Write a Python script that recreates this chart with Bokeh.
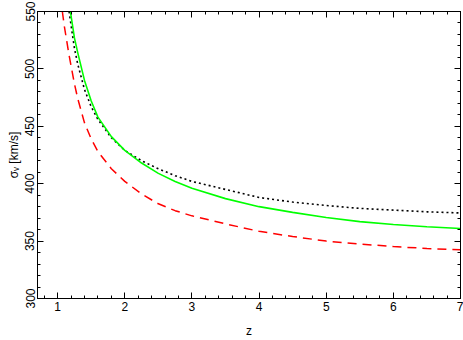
from bokeh.plotting import figure
from bokeh.models import LinearAxis, SingleIntervalTicker, Range1d, CustomJSTickFormatter
from bokeh.embed import file_html
from bokeh.resources import INLINE

# Data
z_green = [1.19, 1.25, 1.3, 1.4, 1.5, 1.6, 1.8, 2.0, 2.25, 2.5, 2.75, 3.0, 3.5, 4.0, 4.5, 5.0, 5.5, 6.0, 6.5, 7.0]
sig_green = [550, 527, 514, 490, 472, 458, 441, 429, 418, 409, 402, 396, 387, 380, 375, 370.5, 367, 364.5, 362.5, 361]

z_dotted = [1.17, 1.25, 1.3, 1.4, 1.5, 1.6, 1.8, 2.0, 2.25, 2.5, 2.75, 3.0, 3.5, 4.0, 4.5, 5.0, 5.5, 6.0, 6.5, 7.0]
sig_dotted = [550, 518, 504, 482, 467, 456, 440, 429, 420, 413, 407, 402, 395, 388, 384, 381, 378.5, 377, 375.5, 374.5]

z_red = [1.07, 1.1, 1.17, 1.25, 1.3, 1.4, 1.5, 1.6, 1.8, 2.0, 2.25, 2.5, 2.75, 3.0, 3.5, 4.0, 4.5, 5.0, 5.5, 6.0, 6.5, 7.0]
sig_red = [550, 537, 512, 487, 474, 453, 439, 428, 413, 402, 391, 382.5, 376.5, 372, 365, 358.5, 354, 350, 347.5, 345.2, 343.6, 342.4]

x_tick_step = 1
y_tick_step = 50

FONT = "Liberation Sans"

p = figure(width=463, height=340, output_backend="svg", toolbar_location=None,
           x_range=Range1d(0.7, 7), y_range=Range1d(300, 550),
           x_axis_type=None, y_axis_type=None,
           min_border_left=37, min_border_top=11, min_border_right=3, min_border_bottom=40)
p.grid.visible = False
p.outline_line_color = "black"
p.outline_line_width = 1
p.background_fill_color = "white"
p.border_fill_color = "white"


def make_axis(ticker, labels=True, label=None, vertical=False):
    ax = LinearAxis(ticker=ticker)
    ax.axis_line_color = "black"
    ax.major_tick_line_color = "black"
    ax.minor_tick_line_color = "black"
    ax.major_tick_in = 6
    ax.major_tick_out = 0
    ax.minor_tick_in = 3
    ax.minor_tick_out = 0
    if labels:
        ax.major_label_text_font = FONT
        ax.major_label_text_font_size = "12px"
        ax.major_label_text_color = "black"
        ax.major_label_standoff = 3
        if vertical:
            ax.major_label_orientation = "vertical"
    else:
        ax.formatter = CustomJSTickFormatter(code="return ''")
        ax.major_label_standoff = 0
    if label is not None:
        ax.axis_label = label
        ax.axis_label_text_font = FONT
        ax.axis_label_text_font_size = "12px"
        ax.axis_label_text_font_style = "normal"
        ax.axis_label_text_color = "black"
        ax.axis_label_standoff = 2
    return ax


xb = make_axis(SingleIntervalTicker(interval=x_tick_step, num_minor_ticks=5), label="z")
xb.axis_label_standoff = 10
p.add_layout(xb, "below")
xt = make_axis(SingleIntervalTicker(interval=x_tick_step, num_minor_ticks=5), labels=False)
p.add_layout(xt, "above")
yl = make_axis(SingleIntervalTicker(interval=y_tick_step, num_minor_ticks=5), label="σᵥ [km/s]", vertical=True)
p.add_layout(yl, "left")
yr = make_axis(SingleIntervalTicker(interval=y_tick_step, num_minor_ticks=5), labels=False)
p.add_layout(yr, "right")

p.line(z_dotted, sig_dotted, line_color="black", line_width=1.6, line_dash="2 3")
p.line(z_red, sig_red, line_color="#ff0000", line_width=1.5, line_dash="9 6")
p.line(z_green, sig_green, line_color="#00ff00", line_width=1.6)

open("out.html", "w").write(file_html(p, INLINE))
